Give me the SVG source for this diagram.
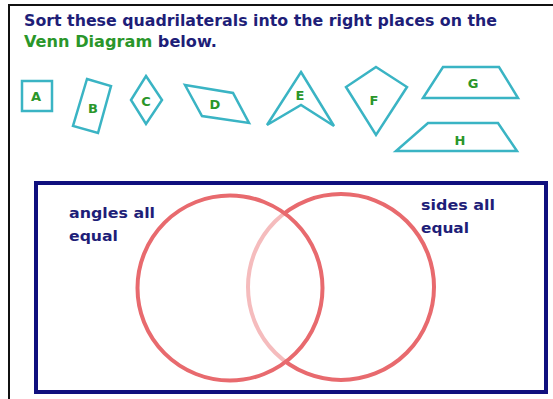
<svg xmlns="http://www.w3.org/2000/svg" width="553" height="399" viewBox="0 0 553 399">
<style>
.title{font-family:"DejaVu Sans","Liberation Sans",sans-serif;font-weight:bold;font-size:15px;fill:#1e1e78}
.green{fill:#2a962a}
.shape{fill:none;stroke:#3ab4c4;stroke-width:2.5;stroke-linejoin:miter}
.lbl{font-family:"DejaVu Sans","Liberation Sans",sans-serif;font-weight:bold;font-size:13px;fill:#2a962a;text-anchor:middle}
.set{font-family:"DejaVu Sans","Liberation Sans",sans-serif;font-weight:bold;font-size:14px;fill:#1e1e78}
.circ{stroke:#e86a6e;stroke-width:4}
</style>
<rect width="553" height="399" fill="#ffffff"/>
<path d="M9,399 V5 H553" fill="none" stroke="#111" stroke-width="2"/>
<text class="title" x="24" y="26" textLength="473" lengthAdjust="spacingAndGlyphs">Sort these quadrilaterals into the right places on the</text>
<text class="title" x="24" y="47" textLength="193" lengthAdjust="spacingAndGlyphs"><tspan class="green">Venn Diagram</tspan> below.</text>
<g id="A"><rect class="shape" x="22" y="81" width="30" height="30"/><text class="lbl" x="36" y="101">A</text></g>
<g id="B"><polygon class="shape" points="87,79 111,86 98,133 73,126"/><text class="lbl" x="93" y="113">B</text></g>
<g id="C"><polygon class="shape" points="146,76 162,100 146,124 131,100"/><text class="lbl" x="146" y="106">C</text></g>
<g id="D"><polygon class="shape" points="185,85 233,93 249,123 202,116"/><text class="lbl" x="215" y="109">D</text></g>
<g id="E"><polygon class="shape" points="301,72 334,126 301,105 267,125"/><text class="lbl" x="300" y="100">E</text></g>
<g id="F"><polygon class="shape" points="376,67 407,87 376,135 346,87"/><text class="lbl" x="374" y="105">F</text></g>
<g id="G"><polygon class="shape" points="443,67 499,67 518,98 423,98"/><text class="lbl" x="473" y="88">G</text></g>
<g id="H"><polygon class="shape" points="428,123 498,123 517,151 396,151"/><text class="lbl" x="460" y="145">H</text></g>
<g id="venn">
<rect x="36" y="183" width="510" height="209" fill="none" stroke="#10107e" stroke-width="4"/>
<circle class="circ" cx="341" cy="287" r="93" fill="none"/>
<circle class="circ" cx="230" cy="288" r="92.5" fill="#ffffff" fill-opacity="0.55"/>
<text class="set" x="69" y="218" textLength="86" lengthAdjust="spacingAndGlyphs">angles all</text>
<text class="set" x="69" y="241" textLength="49" lengthAdjust="spacingAndGlyphs">equal</text>
<text class="set" x="421" y="210" textLength="74" lengthAdjust="spacingAndGlyphs">sides all</text>
<text class="set" x="421" y="233" textLength="48" lengthAdjust="spacingAndGlyphs">equal</text>
</g>
</svg>
